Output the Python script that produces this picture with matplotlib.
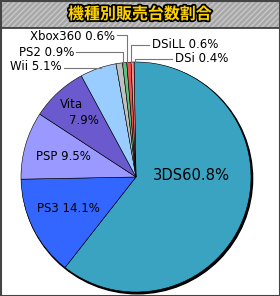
import matplotlib
matplotlib.use("Agg")
import matplotlib.pyplot as plt
import matplotlib.patheffects as pe
from matplotlib.patches import Rectangle, Circle

W, H = 280, 296

# data
platforms = ["3DS", "PS3", "PSP", "Vita", "Wii", "PS2", "Xbox360", "DSiLL", "DSi"]
shares = [60.8, 14.1, 9.5, 7.9, 5.1, 0.9, 0.6, 0.6, 0.4]
colors = ["#3BA3C2", "#3366FF", "#9999FF", "#6A5ACD", "#99CCFF",
          "#C0C0C0", "#5FBF7F", "#F05050", "#FF8F8F"]
title = "機種別販売台数割合"

def Y(y):
    # pixel row (from top) -> axis coordinate (from bottom)
    return H - y

fig = plt.figure(figsize=(W / 100, H / 100), dpi=100)
ax = fig.add_axes([0, 0, 1, 1])

cx, cy, r = 136, Y(177), 115
# shadow ring
ax.add_patch(Circle((cx + 1.3, cy - 1.5), r + 0.3, color="black", zorder=1))
ax.pie(shares, colors=colors, startangle=91, counterclock=False,
       center=(cx, cy), radius=r,
       wedgeprops=dict(edgecolor="black", linewidth=0.4, zorder=2))

# inner labels
fs = 8.5
ax.text(191, Y(176), f"3DS{shares[0]}%", fontsize=10.6, ha="center", va="center", zorder=5)
ax.text(68, Y(208), f"PS3 {shares[1]}%", fontsize=fs, ha="center", va="center", zorder=5)
ax.text(63, Y(156), f"PSP {shares[2]}%", fontsize=fs, ha="center", va="center", zorder=5)
ax.text(71, Y(104), platforms[3], fontsize=fs, ha="center", va="center", zorder=5)
ax.text(84, Y(121), f"{shares[3]}%", fontsize=fs, ha="center", va="center", zorder=5)

# outer labels with leader lines
lc = "#777777"
ax.text(62, Y(67), f"Wii {shares[4]}%", fontsize=fs, ha="right", va="center", zorder=5)
ax.plot([64, 101], [Y(68), Y(68)], color=lc, lw=0.8, zorder=4)
ax.text(74, Y(52), f"PS2 {shares[5]}%", fontsize=fs, ha="right", va="center", zorder=5)
ax.plot([76, 123, 123], [Y(52), Y(52), Y(64)], color=lc, lw=0.8, zorder=4)
ax.text(115, Y(36), f"Xbox360 {shares[6]}%", fontsize=fs, ha="right", va="center", zorder=5)
ax.plot([117, 127, 127], [Y(35), Y(35), Y(63)], color=lc, lw=0.8, zorder=4)
ax.text(152, Y(45), f"DSiLL {shares[7]}%", fontsize=fs, ha="left", va="center", zorder=5)
ax.plot([149, 131, 131], [Y(45), Y(45), Y(63)], color=lc, lw=0.8, zorder=4)
ax.text(175, Y(59), f"DSi {shares[8]}%", fontsize=fs, ha="left", va="center", zorder=5)
ax.plot([172, 135, 135], [Y(59), Y(59), Y(63)], color=lc, lw=0.8, zorder=4)

# title bar
ax.add_patch(Rectangle((0, Y(28)), W, 28, facecolor="#A8A8A8", edgecolor="#C8C8C8",
                       hatch="//////", linewidth=0, zorder=6))
ax.plot([0, W], [Y(28), Y(28)], color="#333333", lw=1.2, zorder=7)
ax.text(W / 2, Y(14), title, fontsize=11.5, fontweight="bold", color="#FFD200",
        family=["Noto Sans CJK JP", "DejaVu Sans"], ha="center", va="center", zorder=8,
        path_effects=[pe.withStroke(linewidth=2.5, foreground="black")])

# outer frame
ax.add_patch(Rectangle((0.5, 0.5), W - 1, H - 1, fill=False, edgecolor="#444444",
                       linewidth=1.5, zorder=9))

ax.set_xlim(0, W)
ax.set_ylim(0, H)
ax.set_aspect("auto")
ax.axis("off")

fig.savefig("out.png", dpi=100)
